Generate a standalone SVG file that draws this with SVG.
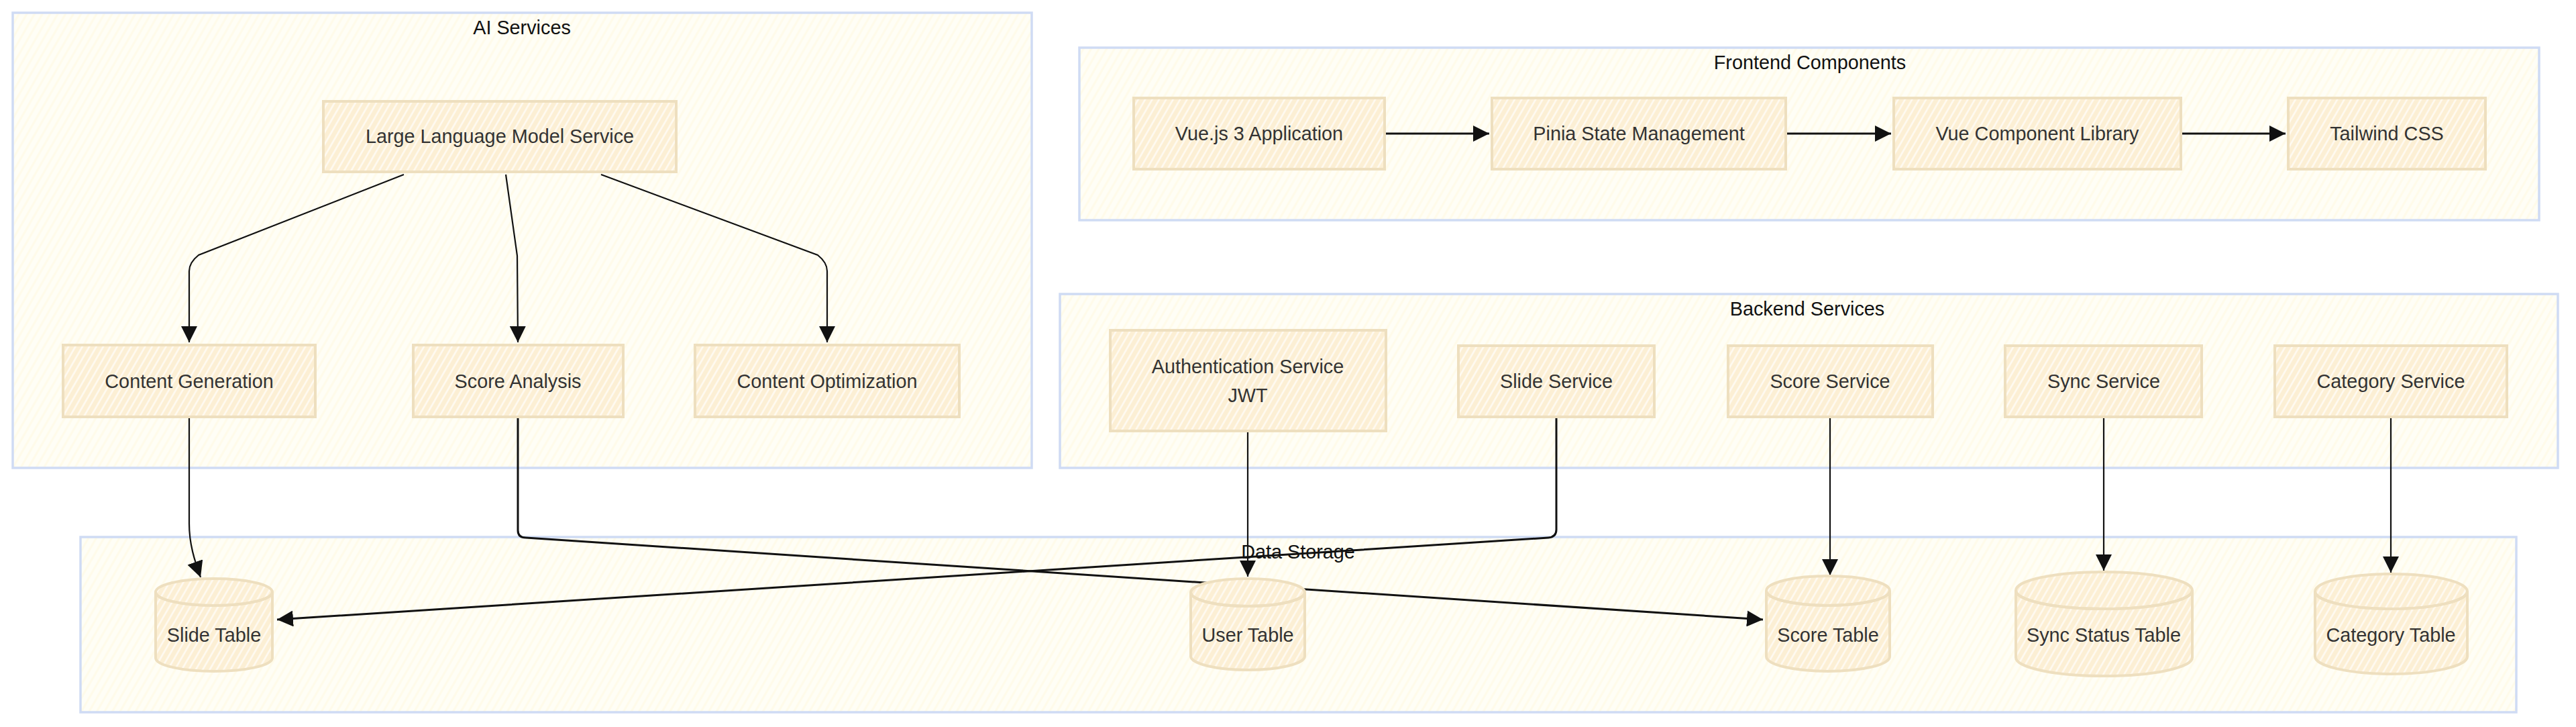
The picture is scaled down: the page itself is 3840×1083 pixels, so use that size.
<svg xmlns="http://www.w3.org/2000/svg" width="3840" height="1083" viewBox="0 0 3840 1083">
<defs>
<pattern id="hachN" width="9" height="9" patternUnits="userSpaceOnUse" patternTransform="rotate(30)">
<rect width="9" height="9" fill="#fcefd4"/>
<line x1="4.5" y1="0" x2="4.5" y2="9" stroke="#ffffff" stroke-width="2.4" stroke-opacity="0.75"/>
</pattern>
<pattern id="hachC" width="10" height="10" patternUnits="userSpaceOnUse" patternTransform="rotate(30)">
<rect width="10" height="10" fill="#fffef6"/>
<line x1="5" y1="0" x2="5" y2="10" stroke="#fffbe9" stroke-width="3"/>
</pattern>
<marker id="arr" markerUnits="userSpaceOnUse" markerWidth="24" markerHeight="24" refX="24" refY="12" orient="auto" viewBox="0 0 24 24">
<path d="M0,0 L24,12 L0,24 z" fill="#111111"/>
</marker>
</defs>
<style>
.cluster rect{fill:url(#hachC);stroke:#cfdbf4;stroke-width:3.5}
.ctitle{font-family:"Liberation Sans",Arial,sans-serif;font-size:28.8px;fill:#111111;text-anchor:middle;dominant-baseline:central}
.node rect,.node path.body{fill:url(#hachN);stroke:#eedfbf;stroke-width:4}
.node path.rim{fill:none;stroke:#eedfbf;stroke-width:4}
.node text{font-family:"Liberation Sans",Arial,sans-serif;font-size:28.8px;fill:#333333;text-anchor:middle;dominant-baseline:central}
.edge{fill:none;stroke:#111111;stroke-width:2.2;marker-end:url(#arr)}
.edge.thick{stroke-width:3}
</style>
<rect width="3840" height="1083" fill="#ffffff"/>
<g id="clusters">
<g id="cluster-ai" class="cluster"><rect x="19" y="19" width="1519" height="678"/><text class="ctitle" x="778" y="41">AI Services</text></g>
<g id="cluster-frontend" class="cluster"><rect x="1609" y="71" width="2176" height="257"/><text class="ctitle" x="2698" y="93">Frontend Components</text></g>
<g id="cluster-backend" class="cluster"><rect x="1580" y="438" width="2233" height="259"/><text class="ctitle" x="2694" y="460">Backend Services</text></g>
<g id="cluster-data" class="cluster"><rect x="120" y="800" width="3631" height="261"/></g>
</g>
<g id="connectors">
<path class="edge" d="M602,260 L296,380 Q282,391 282,404 L282,510"/>
<path class="edge" d="M754,260 L771,381 L772,510"/>
<path class="edge" d="M896,260 L1219,380 Q1233,391 1233,404 L1233,510"/>
<path class="edge thick" d="M2064,199 L2220,199"/>
<path class="edge thick" d="M2662,199 L2819,199"/>
<path class="edge thick" d="M3251,199 L3407,199"/>
<path class="edge" d="M282,623 L282,780 C282,810 290,835 299,860"/>
<path class="edge thick" d="M772,623 L772,790 Q772,801 784,801 L2628,923"/>
<path class="edge thick" d="M2320,623 L2320,789 Q2320,800 2308,801 L413,923"/>
<path class="edge" d="M1860,642 L1860,859"/>
<path class="edge" d="M2728,623 L2728,857"/>
<path class="edge" d="M3136,623 L3136,850"/>
<path class="edge" d="M3564,623 L3564,853"/>
</g>
<text id="data-storage-title" class="ctitle" x="1935" y="822">Data Storage</text>
<g id="node-llm" class="node"><rect x="482" y="151" width="526" height="105"/><text x="745" y="203">Large Language Model Service</text></g>
<g id="node-content-gen" class="node"><rect x="94" y="514" width="376" height="107"/><text x="282" y="568">Content Generation</text></g>
<g id="node-score-analysis" class="node"><rect x="616" y="514" width="313" height="107"/><text x="772" y="568">Score Analysis</text></g>
<g id="node-content-opt" class="node"><rect x="1036" y="514" width="394" height="107"/><text x="1233" y="568">Content Optimization</text></g>
<g id="node-vue" class="node"><rect x="1690" y="146" width="374" height="106"/><text x="1877" y="199">Vue.js 3 Application</text></g>
<g id="node-pinia" class="node"><rect x="2224" y="146" width="438" height="106"/><text x="2443" y="199">Pinia State Management</text></g>
<g id="node-vcl" class="node"><rect x="2823" y="146" width="428" height="106"/><text x="3037" y="199">Vue Component Library</text></g>
<g id="node-tailwind" class="node"><rect x="3411" y="146" width="294" height="106"/><text x="3558" y="199">Tailwind CSS</text></g>
<g id="node-auth" class="node"><rect x="1655" y="492" width="411" height="150"/><text x="1860" y="546">Authentication Service</text><text x="1860" y="589">JWT</text></g>
<g id="node-slide-service" class="node"><rect x="2174" y="515" width="292" height="106"/><text x="2320" y="568">Slide Service</text></g>
<g id="node-score-service" class="node"><rect x="2576" y="515" width="305" height="106"/><text x="2728" y="568">Score Service</text></g>
<g id="node-sync-service" class="node"><rect x="2989" y="515" width="293" height="106"/><text x="3136" y="568">Sync Service</text></g>
<g id="node-category-service" class="node"><rect x="3391" y="515" width="346" height="106"/><text x="3564" y="568">Category Service</text></g>
<g id="node-slide-table" class="node"><path class="body" d="M232,882 a87,20 0 0 0 174,0 a87,20 0 0 0 -174,0 l0,98 a87,20 0 0 0 174,0 l0,-98"/><path class="rim" d="M232,882 a87,20 0 0 0 174,0"/><text x="319" y="946">Slide Table</text></g>
<g id="node-user-table" class="node"><path class="body" d="M1775,882.5 a85,20.5 0 0 0 170,0 a85,20.5 0 0 0 -170,0 l0,95 a85,20.5 0 0 0 170,0 l0,-95"/><path class="rim" d="M1775,882.5 a85,20.5 0 0 0 170,0"/><text x="1860" y="946">User Table</text></g>
<g id="node-score-table" class="node"><path class="body" d="M2633,880 a92,22 0 0 0 184,0 a92,22 0 0 0 -184,0 l0,98 a92,22 0 0 0 184,0 l0,-98"/><path class="rim" d="M2633,880 a92,22 0 0 0 184,0"/><text x="2725" y="946">Score Table</text></g>
<g id="node-sync-table" class="node"><path class="body" d="M3005,879.5 a131.5,27.5 0 0 0 263,0 a131.5,27.5 0 0 0 -263,0 l0,100 a131.5,27.5 0 0 0 263,0 l0,-100"/><path class="rim" d="M3005,879.5 a131.5,27.5 0 0 0 263,0"/><text x="3136" y="946">Sync Status Table</text></g>
<g id="node-category-table" class="node"><path class="body" d="M3451,881 a113.5,26 0 0 0 227,0 a113.5,26 0 0 0 -227,0 l0,97 a113.5,26 0 0 0 227,0 l0,-97"/><path class="rim" d="M3451,881 a113.5,26 0 0 0 227,0"/><text x="3564" y="946">Category Table</text></g>
</svg>
